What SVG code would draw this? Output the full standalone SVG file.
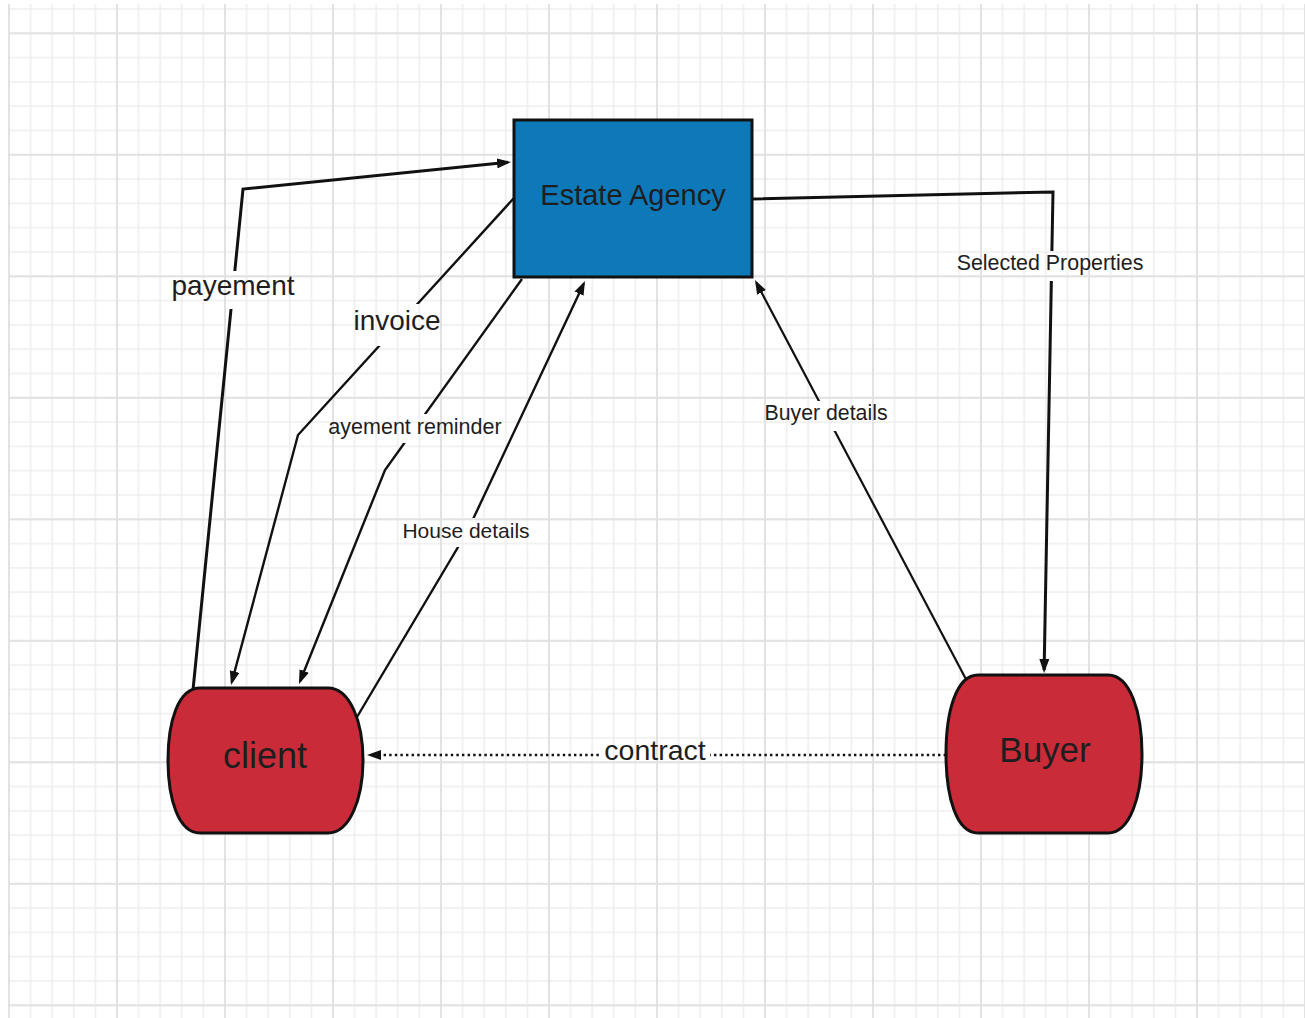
<svg xmlns="http://www.w3.org/2000/svg" width="1305" height="1018" viewBox="0 0 1305 1018">
  <style>
    .lbl { font-family: "Liberation Sans", Arial, sans-serif; fill: #1e1e1e; text-anchor: middle; }
    .conn { fill: none; stroke: #111; stroke-linejoin: miter; }
    .node { stroke: #111; stroke-width: 3; }
  </style>
  <defs>
    <pattern id="gMinor" patternUnits="userSpaceOnUse" x="8" y="8" width="21.6" height="24.3">
      <path d="M1 0 V24.3 M0 1 H21.6" stroke="#eeeeee" stroke-width="1.6" fill="none"/>
    </pattern>
    <pattern id="gMajor" patternUnits="userSpaceOnUse" x="8" y="32.3" width="108" height="121.5">
      <path d="M1 0 V121.5 M0 1 H108" stroke="#e2e2e2" stroke-width="2" fill="none"/>
    </pattern>
    <marker id="arr" markerUnits="userSpaceOnUse" markerWidth="14" markerHeight="10" refX="11" refY="5" orient="auto">
      <path d="M0,0 L14,5 L0,10 Z" fill="#111" stroke="none"/>
    </marker>
    <mask id="lblMask" maskUnits="userSpaceOnUse" x="0" y="0" width="1305" height="1018">
      <rect x="0" y="0" width="1305" height="1018" fill="#fff"/>
      <rect x="166" y="271" width="134" height="38" fill="#000"/>
      <rect x="351" y="304" width="93" height="42" fill="#000"/>
      <rect x="326" y="414" width="179" height="29" fill="#000"/>
      <rect x="399" y="518" width="134" height="29" fill="#000"/>
      <rect x="761" y="401" width="130" height="30" fill="#000"/>
      <rect x="954" y="251" width="193" height="30" fill="#000"/>
      <rect x="600" y="736" width="110" height="34" fill="#000"/>
    </mask>
  </defs>

  <rect x="0" y="0" width="1305" height="1018" fill="#ffffff"/>
  <g id="grid">
    <rect x="8" y="4" width="1297" height="1014" fill="url(#gMinor)"/>
    <rect x="8" y="4" width="1297" height="1014" fill="url(#gMajor)"/>
  </g>

  <g id="connectors" mask="url(#lblMask)">
    <path id="c-payement" class="conn" stroke-width="3" d="M193,690 L243,189 L508,162.3" marker-end="url(#arr)"/>
    <path id="c-invoice" class="conn" stroke-width="2.4" d="M514,198 L298,435 L231.8,682.1" marker-end="url(#arr)"/>
    <path id="c-reminder" class="conn" stroke-width="2.4" d="M522,279 L385,470 L300.1,681.2" marker-end="url(#arr)"/>
    <path id="c-house" class="conn" stroke-width="2.4" d="M357,717 L467,532 L583.7,283.7" marker-end="url(#arr)"/>
    <path id="c-buyerdetails" class="conn" stroke-width="2.2" d="M968,683 L756.4,282.7" marker-end="url(#arr)"/>
    <path id="c-selected" class="conn" stroke-width="3" d="M752,199 L1053,192 L1044.1,670" marker-end="url(#arr)"/>
    <path id="c-contract" class="conn" stroke-width="2.6" stroke-dasharray="2.4 3.2" d="M946,755 L370,755" marker-end="url(#arr)"/>
  </g>

  <g id="labels">
    <text class="lbl" x="233" y="295" font-size="28">payement</text>
    <text class="lbl" x="397" y="330" font-size="28">invoice</text>
    <text class="lbl" x="415" y="434" font-size="21.5">ayement reminder</text>
    <text class="lbl" x="466" y="538" font-size="21">House details</text>
    <text class="lbl" x="826" y="420" font-size="21.3">Buyer details</text>
    <text class="lbl" x="1050" y="270" font-size="21.4">Selected Properties</text>
    <text class="lbl" x="655" y="760" font-size="28.5">contract</text>
  </g>

  <g id="node-estate-agency">
    <rect class="node" x="514" y="120" width="238" height="157" fill="#0e79b8"/>
    <text class="lbl" x="633" y="205" font-size="29" fill="#0d1a26">Estate Agency</text>
  </g>

  <g id="node-client">
    <path class="node" fill="#c92b39" d="M200,688 H328 C350,688 363,722 363,760 C363,798 350,833 328,833 H200 C178,833 168,798 168,760 C168,722 178,688 200,688 Z"/>
    <text class="lbl" x="265" y="768" font-size="36">client</text>
  </g>

  <g id="node-buyer">
    <path class="node" fill="#c92b39" d="M978,675 H1108 C1130,675 1142,712 1142,754 C1142,796 1130,833 1108,833 H978 C956,833 946,796 946,754 C946,712 956,675 978,675 Z"/>
    <text class="lbl" x="1045" y="762" font-size="35">Buyer</text>
  </g>
</svg>
